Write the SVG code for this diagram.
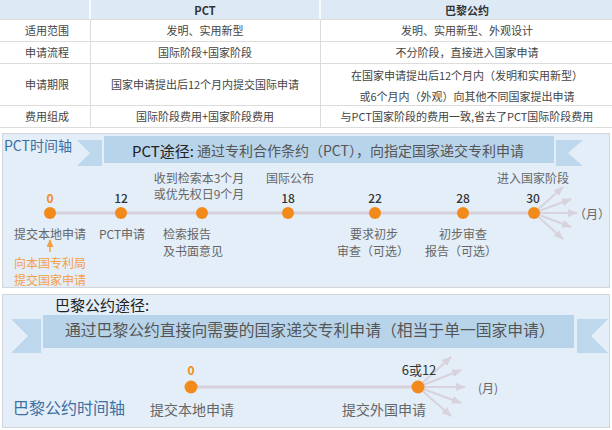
<svg xmlns="http://www.w3.org/2000/svg" width="612" height="430" viewBox="0 0 612 430">
<style>
text{font-family:"Noto Sans CJK SC","Noto Sans",sans-serif;dominant-baseline:central}
.tb{font-size:11px;fill:#444;text-anchor:middle}
.th{font-size:11px;fill:#333;text-anchor:middle;font-weight:bold}
.grid{stroke:#dcdcdc;stroke-width:1;fill:none}
.panel{fill:#e3eef8;stroke:#d2d6da;stroke-width:1}
.band{fill:#b8d4ea}
.tail{fill:#bdd7ec}
.axis{stroke:#d8d1db;stroke-width:3}
.dot{fill:#f28b1c}
.num{font-size:12px;fill:#333;text-anchor:middle;font-weight:500}
.num0{font-size:12px;fill:#f28b1c;text-anchor:middle;font-weight:bold}
.lbl{font-size:12px;fill:#666;text-anchor:middle}
.lbl2{font-size:14px;fill:#666;text-anchor:middle}
.org{font-size:12px;fill:#f5a045;text-anchor:middle}
.fan{stroke:#d8d2dc;stroke-width:2;fill:none;marker-end:url(#ah)}
.ttl{font-size:14px;fill:#3d6fa3}
</style>
<defs>
<marker id="ah" markerUnits="userSpaceOnUse" markerWidth="10" markerHeight="8" refX="9" refY="4" orient="auto"><path d="M0,0 L10,4 L0,8 Z" fill="#d8d2dc"/></marker>
<marker id="ao" markerUnits="userSpaceOnUse" markerWidth="8" markerHeight="7" refX="7" refY="3.5" orient="auto"><path d="M0,0 L8,3.5 L0,7 Z" fill="#f5a045"/></marker>
</defs>
<rect width="612" height="430" fill="#fff"/>
<g id="table">
<rect x="0" y="0" width="612" height="19" fill="#dde9f5"/>
<line x1="90" y1="0" x2="90" y2="19" stroke="#fff" stroke-width="1.5"/>
<line x1="320" y1="0" x2="320" y2="19" stroke="#fff" stroke-width="1.5"/>
<path class="grid" d="M0,19.5H612M0,41.5H612M0,63.5H612M0,105.5H612M0,127.5H612M90.5,19V127M320.5,19V127"/>
<text class="th" x="205" y="10">PCT</text>
<text class="th" x="467" y="10">巴黎公约</text>
<text class="tb" x="47" y="30">适用范围</text>
<text class="tb" x="47" y="52">申请流程</text>
<text class="tb" x="47" y="84">申请期限</text>
<text class="tb" x="47" y="116">费用组成</text>
<text class="tb" x="205" y="30">发明、实用新型</text>
<text class="tb" x="205" y="52">国际阶段+国家阶段</text>
<text class="tb" x="205" y="84">国家申请提出后12个月内提交国际申请</text>
<text class="tb" x="205" y="116">国际阶段费用+国家阶段费用</text>
<text class="tb" x="467" y="30">发明、实用新型、外观设计</text>
<text class="tb" x="467" y="52">不分阶段，直接进入国家申请</text>
<text class="tb" x="467" y="75">在国家申请提出后12个月内（发明和实用新型）</text>
<text class="tb" x="467" y="96">或6个月内（外观）向其他不同国家提出申请</text>
<text class="tb" x="467" y="116">与PCT国家阶段的费用一致,省去了PCT国际阶段费用</text>
</g>
<g id="pct-panel">
<rect class="panel" x="2.5" y="133.5" width="607" height="154"/>
<text class="ttl" x="4" y="145">PCT时间轴</text>
<polygon class="tail" points="77,140 102,140 102,166 77,166 90,153"/>
<polygon class="tail" points="556,140 583,140 568,153 583,166 556,166"/>
<rect class="band" x="104" y="136" width="450" height="27"/>
<text x="132" y="150" font-size="15" fill="#222">PCT途径:</text>
<text x="197" y="150" font-size="14" fill="#555">通过专利合作条约（PCT），向指定国家递交专利申请</text>
</g>
<g id="paris-panel">
<rect class="panel" x="2.5" y="294.5" width="607" height="133"/>
<text x="55" y="304" font-size="15" fill="#222">巴黎公约途径:</text>
<polygon class="tail" points="11,319 41,319 41,353 11,353 28,336"/>
<polygon class="tail" points="577,319 608,319 591,336 608,353 577,353"/>
<rect class="band" x="43" y="315" width="531" height="33"/>
<text x="65" y="329" font-size="15.8" fill="#555">通过巴黎公约直接向需要的国家递交专利申请（相当于单一国家申请）</text>
<text x="13" y="407" font-size="16" fill="#3d6fa3">巴黎公约时间轴</text>
</g>
<g id="connectors">
<line class="axis" x1="50" y1="213" x2="534" y2="213"/>
<line class="fan" x1="534" y1="213" x2="563" y2="187"/>
<line class="fan" x1="534" y1="213" x2="571" y2="199"/>
<line class="fan" x1="534" y1="213" x2="577" y2="213"/>
<line class="fan" x1="534" y1="213" x2="571" y2="227"/>
<line class="fan" x1="534" y1="213" x2="563" y2="239"/>
<line x1="50" y1="252" x2="50" y2="240" stroke="#f5a045" stroke-width="1.5" marker-end="url(#ao)"/>
<line class="axis" x1="191" y1="387" x2="418" y2="387"/>
<line class="fan" x1="418" y1="387" x2="451" y2="357"/>
<line class="fan" x1="418" y1="387" x2="461" y2="370"/>
<line class="fan" x1="418" y1="387" x2="465" y2="387"/>
<line class="fan" x1="418" y1="387" x2="461" y2="403"/>
<line class="fan" x1="418" y1="387" x2="451" y2="416"/>
</g>
<g id="pct-m0">
<circle class="dot" cx="50" cy="213" r="6"/>
<text class="num0" x="50" y="197">0</text>
<text class="lbl" x="50" y="233">提交本地申请</text>
<text class="org" x="50" y="262">向本国专利局</text>
<text class="org" x="50" y="279">提交国家申请</text>
</g>
<g id="pct-m12">
<circle class="dot" cx="121" cy="213" r="6"/>
<text class="num" x="121" y="197">12</text>
<text class="lbl" x="122" y="233">PCT申请</text>
</g>
<g id="pct-search">
<circle class="dot" cx="202" cy="213" r="6"/>
<text class="lbl" x="199" y="177">收到检索本3个月</text>
<text class="lbl" x="199" y="193">或优先权日9个月</text>
<text class="lbl" x="163" y="233" style="text-anchor:start">检索报告</text>
<text class="lbl" x="163" y="250" style="text-anchor:start">及书面意见</text>
</g>
<g id="pct-m18">
<circle class="dot" cx="288" cy="213" r="6"/>
<text class="num" x="288" y="197">18</text>
<text class="lbl" x="290" y="177">国际公布</text>
</g>
<g id="pct-m22">
<circle class="dot" cx="375" cy="213" r="6"/>
<text class="num" x="375" y="197">22</text>
<text class="lbl" x="374" y="233">要求初步</text>
<text class="lbl" x="373" y="250">审查（可选）</text>
</g>
<g id="pct-m28">
<circle class="dot" cx="463" cy="213" r="6"/>
<text class="num" x="463" y="197">28</text>
<text class="lbl" x="463" y="233">初步审查</text>
<text class="lbl" x="461" y="250">报告（可选）</text>
</g>
<g id="pct-m30">
<circle class="dot" cx="534" cy="213" r="6"/>
<text class="num" x="533" y="197">30</text>
<text class="lbl" x="533" y="177">进入国家阶段</text>
<text class="lbl" x="592" y="213">（月）</text>
</g>
<g id="paris-m0">
<circle class="dot" cx="191" cy="387" r="6.5"/>
<text class="num0" x="191" y="369" font-size="13">0</text>
<text class="lbl2" x="192" y="409">提交本地申请</text>
</g>
<g id="paris-m6">
<circle class="dot" cx="418" cy="387" r="6.5"/>
<text x="419" y="369" font-size="13" fill="#333" style="text-anchor:middle">6或12</text>
<text class="lbl2" x="384" y="409">提交外国申请</text>
<text class="lbl" x="488" y="387" font-size="13">(月)</text>
</g>
</svg>
